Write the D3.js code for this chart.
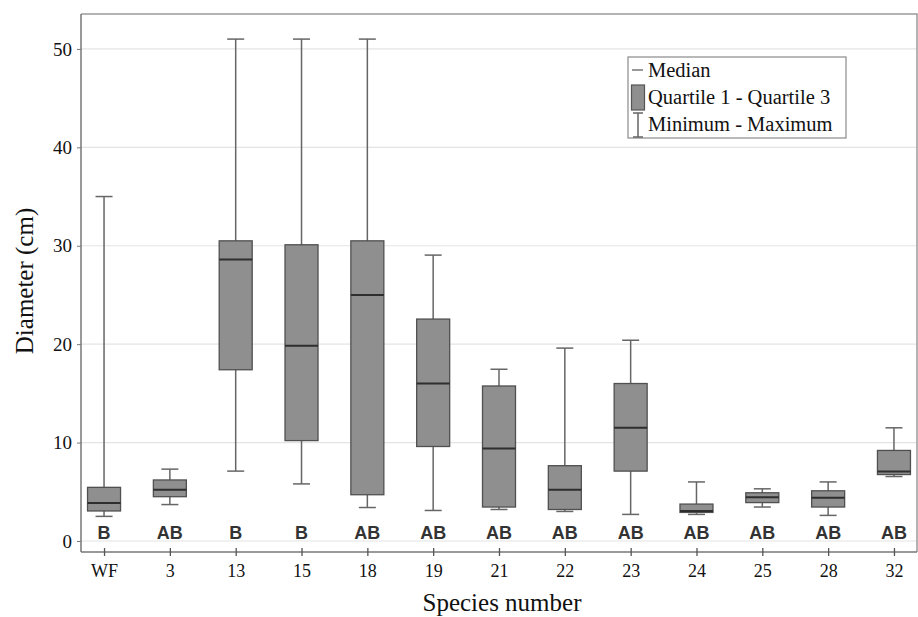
<!DOCTYPE html>
<html>
<head>
<meta charset="utf-8">
<script src="https://cdn.jsdelivr.net/npm/d3@7"></script>
<style>
body { margin: 0; background: #fff; }
text { font-family: "Liberation Serif", "Times New Roman", serif; fill: #111; }
.grp { font-family: "Liberation Sans", Arial, sans-serif; font-weight: bold; fill: #333; }
</style>
</head>
<body>
<script>
var width = 918;
var height = 617;
var margin = {top: 14, right: 1, bottom: 65, left: 81};
var w = width - margin.left - margin.right;
var h = height - margin.top - margin.bottom;

var species = ["WF", "3", "13", "15", "18", "19", "21", "22", "23", "24", "25", "28", "32"];
var minVals = [2.5, 3.7, 7.1, 5.8, 3.4, 3.1, 3.2, 3.0, 2.7, 2.7, 3.45, 2.6, 6.55];
var q1Vals = [3.05, 4.5, 17.4, 10.2, 4.7, 9.6, 3.45, 3.2, 7.1, 2.9, 3.9, 3.45, 6.75];
var medVals = [3.85, 5.2, 28.6, 19.85, 25.0, 16.0, 9.4, 5.2, 11.5, 3.05, 4.45, 4.4, 7.05];
var q3Vals = [5.45, 6.2, 30.5, 30.1, 30.5, 22.55, 15.75, 7.65, 16.0, 3.75, 4.9, 5.1, 9.2];
var maxVals = [35, 7.3, 51, 51, 51, 29.05, 17.45, 19.6, 20.4, 6.0, 5.3, 6.0, 11.5];
var groups = ["B", "AB", "B", "B", "AB", "AB", "AB", "AB", "AB", "AB", "AB", "AB", "AB"];
var yTicks = [0, 10, 20, 30, 40, 50];
var legendLabels = ["Median", "Quartile 1 - Quartile 3", "Minimum - Maximum"];

var boxes = species.map(function(s, i) {
	return {name: s, min: minVals[i], q1: q1Vals[i], med: medVals[i], q3: q3Vals[i], max: maxVals[i], grp: groups[i]};
});

var svg = d3.select("body").append("svg")
	.attr("width", width)
	.attr("height", height);

var chart = svg.append("g")
	.attr("transform", "translate(" + margin.left + "," + margin.top + ")");

var x = d3.scalePoint()
	.domain(species)
	.range([0, w])
	.padding(0.35);

var y = d3.scaleLinear()
	.domain([-1.12, 53.55])
	.range([h, 0]);

var boxW = 33;
var capW = 17;

// gridlines
chart.selectAll(".grid")
	.data(yTicks)
	.enter().append("line")
	.attr("x1", 0).attr("x2", w)
	.attr("y1", function(d) { return y(d); })
	.attr("y2", function(d) { return y(d); })
	.style("stroke", "#e4e4e4")
	.style("stroke-width", 1.2);

// frame top / right
chart.append("path")
	.attr("d", "M0,0H" + w + "V" + h)
	.style("fill", "none")
	.style("stroke", "#9a9a9a")
	.style("stroke-width", 1.5);

var yAxis = d3.axisLeft(y).tickValues(yTicks).tickSizeOuter(0).tickSize(4).tickPadding(5);
var gy = chart.append("g").call(yAxis);
gy.select(".domain").attr("d", "M0,0V" + h).style("stroke", "#777").style("stroke-width", 1.5);
gy.selectAll(".tick line").style("stroke", "#777");
gy.selectAll(".tick text").style("font-size", "19px").style("font-family", "Liberation Serif, serif").attr("fill", "#111");

var xAxis = d3.axisBottom(x).tickSizeOuter(0).tickSize(4).tickPadding(8);
var gx = chart.append("g").attr("transform", "translate(0," + h + ")").call(xAxis);
gx.select(".domain").attr("d", "M0,0H" + w).style("stroke", "#777").style("stroke-width", 1.5);
gx.selectAll(".tick line").attr("y1", -4).style("stroke", "#555").style("stroke-width", 1.3);
gx.selectAll(".tick text").style("font-size", "18px").style("font-family", "Liberation Serif, serif").attr("fill", "#111");

// boxes
var b = chart.selectAll(".box")
	.data(boxes)
	.enter().append("g")
	.attr("transform", function(d) { return "translate(" + x(d.name) + ",0)"; });

b.append("line")
	.attr("x1", 0).attr("x2", 0)
	.attr("y1", function(d) { return y(d.max); })
	.attr("y2", function(d) { return y(d.min); })
	.style("stroke", "#666").style("stroke-width", 1.5);

b.append("line")
	.attr("x1", -capW / 2).attr("x2", capW / 2)
	.attr("y1", function(d) { return y(d.max); })
	.attr("y2", function(d) { return y(d.max); })
	.style("stroke", "#666").style("stroke-width", 1.5);

b.append("line")
	.attr("x1", -capW / 2).attr("x2", capW / 2)
	.attr("y1", function(d) { return y(d.min); })
	.attr("y2", function(d) { return y(d.min); })
	.style("stroke", "#666").style("stroke-width", 1.5);

b.append("rect")
	.attr("x", -boxW / 2)
	.attr("width", boxW)
	.attr("y", function(d) { return y(d.q3); })
	.attr("height", function(d) { return y(d.q1) - y(d.q3); })
	.style("fill", "#8f8f8f")
	.style("stroke", "#505050")
	.style("stroke-width", 1.3);

b.append("line")
	.attr("x1", -boxW / 2).attr("x2", boxW / 2)
	.attr("y1", function(d) { return y(d.med); })
	.attr("y2", function(d) { return y(d.med); })
	.style("stroke", "#2e2e2e").style("stroke-width", 2);

b.append("text")
	.attr("class", "grp")
	.attr("y", y(0) - 2)
	.attr("text-anchor", "middle")
	.style("font-size", "18px")
	.text(function(d) { return d.grp; });

// axis titles
svg.append("text")
	.attr("x", 502)
	.attr("y", 611)
	.attr("text-anchor", "middle")
	.style("font-size", "25px")
	.text("Species number");

svg.append("text")
	.attr("transform", "translate(33,281) rotate(-90)")
	.attr("text-anchor", "middle")
	.style("font-size", "25px")
	.text("Diameter (cm)");

// legend
var lg = svg.append("g").attr("transform", "translate(628,57)");
lg.append("rect")
	.attr("width", 218).attr("height", 81)
	.style("fill", "#fff").style("stroke", "#8a8a8a").style("stroke-width", 1.2);

lg.append("line").attr("x1", 4).attr("x2", 15).attr("y1", 13).attr("y2", 13)
	.style("stroke", "#777").style("stroke-width", 1.5);
lg.append("rect").attr("x", 3.5).attr("y", 28).attr("width", 13).attr("height", 25)
	.style("fill", "#8f8f8f").style("stroke", "#555").style("stroke-width", 1.2);
lg.append("path").attr("d", "M5,56H15M10,56V80M5,80H15")
	.style("fill", "none").style("stroke", "#666").style("stroke-width", 1.5);

lg.selectAll(".lt")
	.data(legendLabels)
	.enter().append("text")
	.attr("x", 20)
	.attr("y", function(d, i) { return 20 + i * 27; })
	.style("font-size", "20.5px")
	.text(function(d) { return d; });
</script>
</body>
</html>
